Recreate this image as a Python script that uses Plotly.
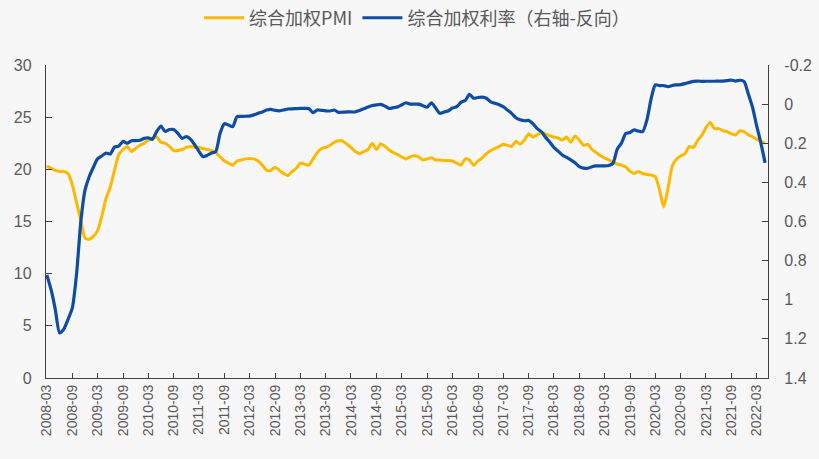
import pandas as pd
import plotly.graph_objects as go

months = pd.date_range("2008-03-01", "2022-05-01", freq="MS")

pmi = [
    20.3, 20.1, 19.9, 19.8, 19.8, 19.6, 18.5, 16.8, 15.1, 13.4,
    13.3, 13.6, 14.1, 15.5, 17.2, 18.3, 19.9, 21.4, 21.9, 22.2,
    21.7, 22.0, 22.3, 22.5, 22.8, 23.0, 23.1, 22.6, 22.5, 22.2,
    21.8, 21.8, 21.9, 22.1, 22.2, 22.1, 22.1, 22.0, 21.9, 21.8,
    21.6, 21.2, 20.8, 20.6, 20.4, 20.8, 20.9, 21.0, 21.05, 21.0,
    20.8, 20.4, 19.9, 19.9, 20.2, 19.9, 19.6, 19.4, 19.8, 20.1,
    20.6, 20.5, 20.4, 21.0, 21.6, 22.0, 22.1, 22.3, 22.6, 22.75,
    22.7, 22.4, 22.1, 21.7, 21.5, 21.7, 21.9, 22.5, 21.9, 22.45,
    22.2, 21.85, 21.6, 21.4, 21.2, 21.0, 21.2, 21.3, 21.2, 20.9,
    21.0, 21.1, 20.9, 20.9, 20.85, 20.85, 20.8, 20.6, 20.4, 21.0,
    20.9, 20.4, 20.8, 21.1, 21.5, 21.8, 22.0, 22.2, 22.4, 22.3,
    22.2, 22.7, 22.4, 22.8, 23.4, 23.1, 23.3, 23.5, 23.4, 23.2,
    23.1, 23.0, 22.8, 23.1, 22.6, 23.2, 22.8, 22.3, 22.4, 21.9,
    21.6, 21.3, 21.1, 20.9, 20.7, 20.5, 20.4, 20.25, 19.8, 19.6,
    19.8, 19.6, 19.5, 19.45, 19.3, 18.0, 16.4, 18.2, 20.3, 21.0,
    21.3, 21.5, 22.2, 22.1, 22.8, 23.3, 24.0, 24.5, 23.9, 23.9,
    23.7, 23.6, 23.4, 23.3, 23.7, 23.6, 23.3, 23.1, 22.9, 22.7,
    22.5,
]

rate = [
    0.873, 0.95, 1.05, 1.17, 1.15, 1.10, 1.04, 0.87, 0.60, 0.44,
    0.37, 0.32, 0.28, 0.265, 0.25, 0.255, 0.22, 0.215, 0.19, 0.20,
    0.187, 0.187, 0.185, 0.175, 0.172, 0.18, 0.14, 0.112, 0.14, 0.13,
    0.13, 0.15, 0.175, 0.166, 0.18, 0.21, 0.24, 0.269, 0.262, 0.25,
    0.243, 0.149, 0.10, 0.107, 0.115, 0.064, 0.063, 0.062, 0.061, 0.055,
    0.047, 0.04, 0.03, 0.027, 0.032, 0.034, 0.03, 0.025, 0.024, 0.023,
    0.022, 0.022, 0.022, 0.044, 0.03, 0.032, 0.034, 0.035, 0.03, 0.042,
    0.041, 0.04, 0.04, 0.04, 0.032, 0.024, 0.015, 0.007, 0.004, 0.001,
    0.01, 0.022, 0.018, 0.014, 0.004, -0.007, 0.0, 0.0, 0.0, 0.008,
    0.016, -0.007, 0.02, 0.047, 0.04, 0.034, 0.02, 0.013, -0.009, -0.018,
    -0.05, -0.03, -0.034, -0.036, -0.03, -0.012, -0.004, 0.003, 0.013, 0.03,
    0.047, 0.07, 0.08, 0.085, 0.083, 0.10, 0.125, 0.141, 0.17, 0.195,
    0.221, 0.24, 0.26, 0.272, 0.285, 0.30, 0.32, 0.327, 0.328, 0.32,
    0.316, 0.316, 0.316, 0.314, 0.303, 0.23, 0.20, 0.15, 0.145, 0.132,
    0.138, 0.141, 0.08, -0.03, -0.098, -0.095, -0.095, -0.089, -0.095, -0.098,
    -0.10, -0.105, -0.111, -0.116, -0.118, -0.116, -0.117, -0.117, -0.117, -0.118,
    -0.118, -0.12, -0.123, -0.118, -0.122, -0.115, -0.05, 0.02, 0.11, 0.20,
    0.30,
]

x_tick_labels = [
    "2008-03", "2008-09", "2009-03", "2009-09", "2010-03", "2010-09",
    "2011-03", "2011-09", "2012-03", "2012-09", "2013-03", "2013-09",
    "2014-03", "2014-09", "2015-03", "2015-09", "2016-03", "2016-09",
    "2017-03", "2017-09", "2018-03", "2018-09", "2019-03", "2019-09",
    "2020-03", "2020-09", "2021-03", "2021-09", "2022-03",
]
left_ticks = [0, 5, 10, 15, 20, 25, 30]
right_ticks = [-0.2, 0, 0.2, 0.4, 0.6, 0.8, 1, 1.2, 1.4]
right_tick_text = ["-0.2", "0", "0.2", "0.4", "0.6", "0.8", "1", "1.2", "1.4"]

YELLOW = "#FFB800"
BLUE = "#0F4DA3"
TXT = "#595959"
AX = "#404040"
CJK = "Noto Sans CJK SC, Arial, sans-serif"
LAT = "Liberation Sans, Arial, sans-serif"

fig = go.Figure()
fig.add_trace(go.Scatter(
    x=months, y=pmi, name="综合加权PMI", mode="lines",
    line=dict(color=YELLOW, width=3, shape="spline", smoothing=0.6),
))
fig.add_trace(go.Scatter(
    x=months, y=rate, name="综合加权利率（右轴-反向）", mode="lines", yaxis="y2",
    line=dict(color=BLUE, width=3.2, shape="spline", smoothing=0.6),
))

tickvals_x = [pd.Timestamp(s + "-01") for s in x_tick_labels]

fig.update_layout(
    width=819, height=459,
    paper_bgcolor="#F7F7F7", plot_bgcolor="#F7F7F7",
    margin=dict(l=46, r=51, t=65, b=81, autoexpand=False),
    font=dict(family=LAT, color=TXT, size=14),
    showlegend=True,
    legend=dict(orientation="h", x=0.514, xanchor="center", y=1.15, yanchor="middle",
                font=dict(family=CJK, size=18, color=TXT), bgcolor="rgba(0,0,0,0)",
                tracegroupgap=0, itemwidth=40),
    xaxis=dict(
        range=[pd.Timestamp("2008-02-24"), pd.Timestamp("2022-05-22")],
        tickmode="array", tickvals=tickvals_x, ticktext=x_tick_labels,
        tickangle=-90, tickfont=dict(family=LAT, size=14, color=TXT),
        showgrid=False, zeroline=False, automargin=False,
        showline=True, linecolor=AX, linewidth=1.3,
        ticks="inside", ticklen=5, tickcolor=AX, tickwidth=1,
    ),
    yaxis=dict(
        range=[0, 30], tickmode="array", tickvals=left_ticks,
        showgrid=False, zeroline=False, automargin=False,
        showline=True, linecolor=AX, linewidth=1.3,
        ticks="inside", ticklen=6, tickcolor=AX, tickwidth=1,
        ticklabelstandoff=10, tickfont=dict(family=LAT, size=16, color=TXT),
    ),
    yaxis2=dict(
        range=[1.4, -0.2], overlaying="y", side="right",
        tickmode="array", tickvals=right_ticks, ticktext=right_tick_text,
        showgrid=False, zeroline=False, automargin=False,
        showline=True, linecolor=AX, linewidth=1.3,
        ticks="inside", ticklen=6, tickcolor=AX, tickwidth=1,
        ticklabelstandoff=12, tickfont=dict(family=LAT, size=16, color=TXT),
    ),
)

fig.write_html(
    "out.html",
    config={"displayModeBar": False},
    post_script="document.body.style.margin='0';document.body.style.background='#F7F7F7';",
)
